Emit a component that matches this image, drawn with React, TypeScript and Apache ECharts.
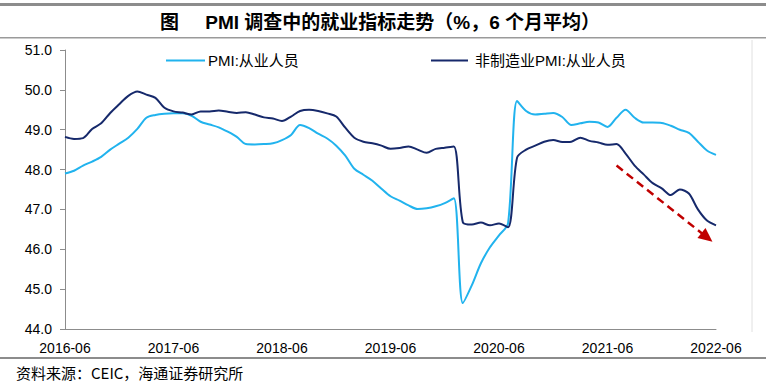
import React, { useEffect, useRef } from "react";
import * as echarts from "echarts";

const months: string[] = [];
for (let y = 2016, m = 6; months.length < 73; ) {
  months.push(`${y}-${String(m).padStart(2, "0")}`);
  m++;
  if (m > 12) { m = 1; y++; }
}

const pmiEmployment = [
  47.9, 47.97, 48.1, 48.2, 48.32, 48.5, 48.65, 48.8, 49.02, 49.3, 49.37, 49.4,
  49.41, 49.41, 49.35, 49.2, 49.13, 49.06, 48.95, 48.82, 48.64, 48.63, 48.64, 48.66,
  48.74, 48.87, 49.12, 49.04, 48.9, 48.78, 48.6, 48.35, 48.02, 47.87, 47.72, 47.52,
  47.33, 47.22, 47.1, 47.01, 47.03, 47.08, 47.16, 47.28, 44.65, 45.1, 45.65, 46.05,
  46.35, 46.65, 49.72, 49.47, 49.38, 49.4, 49.42, 49.32, 49.12, 49.16, 49.2, 49.18,
  49.07, 49.3, 49.5, 49.3, 49.18, 49.18, 49.17, 49.1, 49.0, 48.92, 48.7, 48.48,
  48.37,
];

const nonMfgEmployment = [
  48.82, 48.77, 48.79, 49.02, 49.16, 49.42, 49.64, 49.85, 49.96, 49.88, 49.8, 49.55,
  49.46, 49.43, 49.38, 49.46, 49.46, 49.48, 49.45, 49.42, 49.44, 49.38, 49.31, 49.28,
  49.22, 49.33, 49.47, 49.5, 49.47, 49.41, 49.33, 49.05, 48.8, 48.7, 48.66, 48.6,
  48.52, 48.54, 48.58, 48.5, 48.42, 48.52, 48.55, 48.58, 46.68, 46.62, 46.67, 46.6,
  46.65, 46.55, 48.3, 48.5, 48.6, 48.7, 48.74, 48.69, 48.7, 48.8, 48.72, 48.68,
  48.62, 48.64, 48.4, 48.1, 47.88, 47.66, 47.53, 47.36, 47.5, 47.4, 47.0, 46.72,
  46.6,
];

const seriesNames = ["PMI:从业人员", "非制造业PMI:从业人员"];
const yTicks = { min: 44, max: 51, interval: 1 };
const trendArrow = { start: [61, 48.1], end: [71, 46.3] };
const titleText = "图     PMI 调查中的就业指标走势（%，6 个月平均）";
const sourceText = "资料来源：CEIC，海通证券研究所";

const FONT = "'Liberation Sans', Arial, 'Noto Sans CJK SC', sans-serif";

export default function App() {
  const ref = useRef<HTMLDivElement>(null);
  useEffect(() => {
    document.body.style.margin = "0";
    const chart = echarts.init(ref.current!, null, { renderer: "svg" });
    chart.setOption({
      animation: false,
      backgroundColor: "#fff",
      textStyle: { fontFamily: FONT },
      legend: [
        {
          data: [seriesNames[0]],
          left: 161,
          top: 48,
          icon: "rect",
          itemWidth: 39,
          itemHeight: 2,
          itemGap: 0,
          textStyle: { fontSize: 15, color: "#000", padding: [0, 0, 0, -2] },
        },
        {
          data: [seriesNames[1]],
          left: 426,
          top: 48,
          icon: "rect",
          itemWidth: 37,
          itemHeight: 2,
          itemGap: 0,
          textStyle: { fontSize: 15, color: "#000", padding: [0, 0, 0, 2] },
        },
      ],
      grid: { left: 65, right: 50, top: 50, bottom: 58, containLabel: false },
      xAxis: {
        type: "category",
        data: months,
        boundaryGap: false,
        axisLine: { lineStyle: { color: "#8c8c8c", width: 1 } },
        axisTick: { show: false },
        axisLabel: {
          interval: 11,
          color: "#000",
          fontSize: 14,
          margin: 12,
          fontFamily: FONT,
        },
        splitLine: { show: false },
      },
      yAxis: {
        type: "value",
        min: yTicks.min,
        max: yTicks.max,
        interval: yTicks.interval,
        axisLine: { show: true, lineStyle: { color: "#8c8c8c", width: 1 } },
        axisTick: { show: true, inside: false, length: 5, lineStyle: { color: "#8c8c8c" } },
        axisLabel: {
          color: "#000",
          fontSize: 14,
          margin: 13,
          fontFamily: FONT,
          formatter: (v: number) => v.toFixed(1),
        },
        splitLine: { show: false },
      },
      series: [
        {
          name: seriesNames[0],
          type: "line",
          data: pmiEmployment,
          smooth: 0.3,
          showSymbol: false,
          symbol: "none",
          lineStyle: { color: "#21b3ee", width: 2 },
          itemStyle: { color: "#21b3ee" },
        },
        {
          name: seriesNames[1],
          type: "line",
          data: nonMfgEmployment,
          smooth: 0.3,
          showSymbol: false,
          symbol: "none",
          lineStyle: { color: "#16296b", width: 2 },
          itemStyle: { color: "#16296b" },
          markLine: {
            silent: true,
            symbol: ["none", "triangle"],
            symbolSize: [13, 14],
            label: { show: false },
            lineStyle: { color: "#c00000", width: 2.5, type: [8, 5] },
            itemStyle: { color: "#c00000" },
            data: [
              [
                { coord: trendArrow.start },
                { coord: trendArrow.end },
              ],
            ],
          },
        },
      ],
      graphic: [
        { type: "rect", shape: { x: 0, y: 3, width: 766, height: 3 }, style: { fill: "#8c8c8c" } },
        { type: "rect", shape: { x: 0, y: 37, width: 766, height: 1.5 }, style: { fill: "#9a9a9a" } },
        {
          type: "text",
          x: 380,
          y: 22,
          style: {
            text: titleText,
            textAlign: "center",
            textVerticalAlign: "middle",
            font: `bold 19px ${FONT}`,
            fill: "#000",
          },
        },
        { type: "line", shape: { x1: 752, y1: 40, x2: 752, y2: 332 }, style: { stroke: "#e0e0e0", lineWidth: 1 } },
        { type: "rect", shape: { x: 0, y: 357, width: 766, height: 2 }, style: { fill: "#8c8c8c" } },
        {
          type: "text",
          x: 16,
          y: 372,
          style: {
            text: sourceText,
            textVerticalAlign: "middle",
            font: "15px 'Noto Sans CJK SC', sans-serif",
            fill: "#000",
          },
        },
      ],
    });
    return () => chart.dispose();
  }, []);
  return <div ref={ref} style={{ width: 766, height: 387 }} />;
}
